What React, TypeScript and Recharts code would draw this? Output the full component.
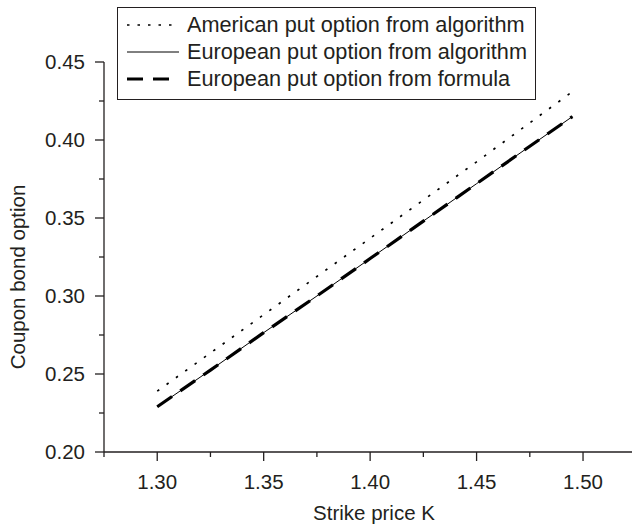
import React from 'react';
import { LineChart, Line, XAxis, YAxis, Legend } from 'recharts';

const strikes = [1.3, 1.325, 1.35, 1.375, 1.4, 1.425, 1.45, 1.475, 1.495];
const americanAlgo = [0.239, 0.2635, 0.288, 0.3125, 0.337, 0.3615, 0.386, 0.411, 0.431];
const europeanAlgo = [0.229, 0.2525, 0.2765, 0.3, 0.324, 0.348, 0.372, 0.396, 0.415];
const europeanFormula = [0.229, 0.2525, 0.2765, 0.3, 0.324, 0.348, 0.372, 0.396, 0.415];

const xTicks = [1.275, 1.3, 1.325, 1.35, 1.375, 1.4, 1.425, 1.45, 1.475, 1.5];
const yTicks = [0.2, 0.225, 0.25, 0.275, 0.3, 0.325, 0.35, 0.375, 0.4, 0.425, 0.45];

const legendItems = [
  { name: 'American put option from algorithm', dash: '2.5 8', width: 1.7 },
  { name: 'European put option from algorithm', dash: undefined, width: 1 },
  { name: 'European put option from formula', dash: '16 10', width: 3.2 },
];

const data = strikes.map((k, i) => ({
  k,
  american: americanAlgo[i],
  europeanAlgo: europeanAlgo[i],
  europeanFormula: europeanFormula[i],
}));

const FONT = '"Liberation Sans", Arial, Helvetica, sans-serif';
const INK = '#231f20';

const isMajor = (v: number) => Math.round(v * 1000) % 50 === 0;

const XTick = ({ x, y, payload }: any) => {
  const major = isMajor(payload.value);
  return (
    <g>
      <line x1={x} x2={x} y1={y} y2={y + (major ? 9 : 5)} stroke={INK} strokeWidth={1.3} />
      {major && (
        <text x={x} y={y + 37} textAnchor="middle" fontSize={20.5} fill={INK} fontFamily={FONT}>
          {payload.value.toFixed(2)}
        </text>
      )}
    </g>
  );
};

const YTick = ({ x, y, payload }: any) => {
  const major = isMajor(payload.value);
  return (
    <g>
      <line x1={x} x2={x - (major ? 9 : 5)} y1={y} y2={y} stroke={INK} strokeWidth={1.3} />
      {major && (
        <text x={x - 19} y={y + 7} textAnchor="end" fontSize={20.5} fill={INK} fontFamily={FONT}>
          {payload.value.toFixed(2)}
        </text>
      )}
    </g>
  );
};

const LegendBox = () => (
  <div
    style={{
      width: 419,
      height: 93,
      boxSizing: 'border-box',
      border: `1.3px solid ${INK}`,
      background: '#fff',
      position: 'relative',
      fontFamily: FONT,
      fontSize: 21.7,
      color: INK,
    }}
  >
    {legendItems.map((item, i) => (
      <div key={item.name} style={{ position: 'absolute', left: 0, top: 4 + i * 27, height: 26, width: 419 }}>
        <svg width={52} height={26} style={{ position: 'absolute', left: 9, top: 0 }}>
          <line x1={0} x2={52} y1={13} y2={13} stroke="#000" strokeWidth={item.width} strokeDasharray={item.dash} />
        </svg>
        <span style={{ position: 'absolute', left: 69, top: 0, lineHeight: '25px', whiteSpace: 'nowrap' }}>{item.name}</span>
      </div>
    ))}
  </div>
);

export default function App() {
  return (
    <div style={{ position: 'absolute', left: 0, top: 0, width: 632, height: 530, background: '#fff' }}>
      <LineChart width={632} height={530} data={data} margin={{ top: 62, right: 0, bottom: 0, left: 0 }}>
        <XAxis
          dataKey="k"
          type="number"
          domain={[1.275, 1.523]}
          ticks={xTicks}
          interval={0}
          height={78}
          tickSize={0}
          tickMargin={0}
          tickLine={false}
          tick={<XTick />}
          axisLine={{ stroke: INK, strokeWidth: 1.3 }}
          allowDataOverflow
          label={{
            content: () => (
              <text x={374} y={520} textAnchor="middle" fontSize={20.5} fill={INK} fontFamily={FONT}>
                Strike price K
              </text>
            ),
          }}
        />
        <YAxis
          type="number"
          domain={[0.2, 0.45]}
          ticks={yTicks}
          interval={0}
          width={104}
          tickSize={0}
          tickMargin={0}
          tickLine={false}
          tick={<YTick />}
          axisLine={{ stroke: INK, strokeWidth: 1.3 }}
          allowDataOverflow
          label={{
            content: () => (
              <text
                transform="translate(25, 277) rotate(-90)"
                textAnchor="middle"
                fontSize={20.5}
                fill={INK}
                fontFamily={FONT}
              >
                Coupon bond option
              </text>
            ),
          }}
        />
        <Legend
          layout="vertical"
          align="center"
          verticalAlign="middle"
          content={() => <LegendBox />}
          wrapperStyle={{ position: 'absolute', left: 117, top: 7, width: 419, height: 93 }}
        />
        <Line
          type="linear"
          dataKey="american"
          stroke="#000"
          strokeWidth={1.7}
          strokeDasharray="2.5 9"
          dot={false}
          isAnimationActive={false}
        />
        <Line
          type="linear"
          dataKey="europeanAlgo"
          stroke="#000"
          strokeWidth={1}
          dot={false}
          isAnimationActive={false}
        />
        <Line
          type="linear"
          dataKey="europeanFormula"
          stroke="#000"
          strokeWidth={3.2}
          strokeDasharray="18 10"
          dot={false}
          isAnimationActive={false}
        />
      </LineChart>
    </div>
  );
}
